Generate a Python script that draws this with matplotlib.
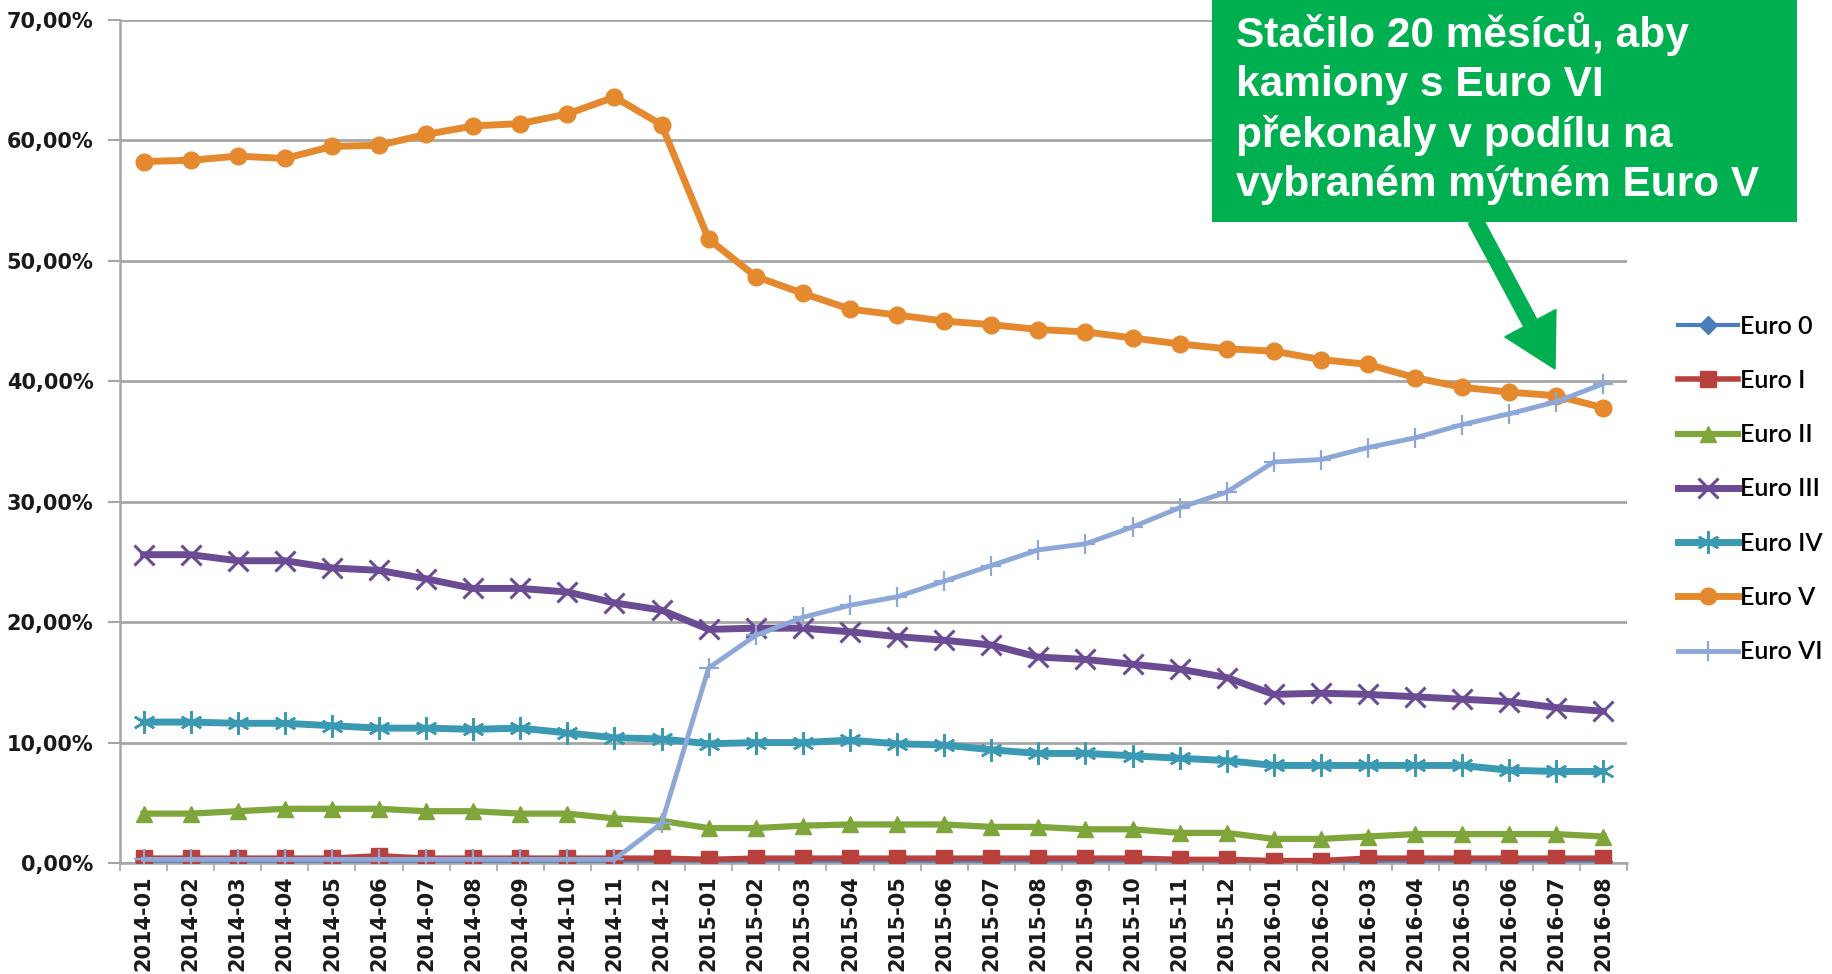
import matplotlib
matplotlib.use("Agg")
import matplotlib.pyplot as plt
import matplotlib.patches as mpatches
import matplotlib.transforms as mtransforms
from matplotlib.ticker import FuncFormatter, FixedLocator

months = ["2014-01", "2014-02", "2014-03", "2014-04", "2014-05", "2014-06", "2014-07", "2014-08",
          "2014-09", "2014-10", "2014-11", "2014-12", "2015-01", "2015-02", "2015-03", "2015-04",
          "2015-05", "2015-06", "2015-07", "2015-08", "2015-09", "2015-10", "2015-11", "2015-12",
          "2016-01", "2016-02", "2016-03", "2016-04", "2016-05", "2016-06", "2016-07", "2016-08"]

euro0 = [0.2, 0.2, 0.2, 0.2, 0.2, 0.2, 0.2, 0.2, 0.2, 0.2, 0.2, 0.2, 0.2, 0.2, 0.2, 0.2,
         0.2, 0.2, 0.2, 0.2, 0.2, 0.2, 0.2, 0.2, 0.1, 0.1, 0.2, 0.2, 0.2, 0.2, 0.2, 0.2]
euro1 = [0.4, 0.4, 0.4, 0.4, 0.4, 0.6, 0.4, 0.4, 0.4, 0.4, 0.4, 0.4, 0.3, 0.4, 0.4, 0.4,
         0.4, 0.4, 0.4, 0.4, 0.4, 0.4, 0.3, 0.3, 0.2, 0.2, 0.4, 0.4, 0.4, 0.4, 0.4, 0.4]
euro2 = [4.1, 4.1, 4.3, 4.5, 4.5, 4.5, 4.3, 4.3, 4.1, 4.1, 3.7, 3.5, 2.9, 2.9, 3.1, 3.2,
         3.2, 3.2, 3.0, 3.0, 2.8, 2.8, 2.5, 2.5, 2.0, 2.0, 2.2, 2.4, 2.4, 2.4, 2.4, 2.2]
euro3 = [25.6, 25.6, 25.1, 25.1, 24.5, 24.3, 23.6, 22.8, 22.8, 22.5, 21.6, 21.0, 19.4, 19.5, 19.5, 19.2,
         18.8, 18.5, 18.1, 17.1, 16.9, 16.5, 16.1, 15.4, 14.0, 14.1, 14.0, 13.8, 13.6, 13.4, 12.9, 12.6]
euro4 = [11.7, 11.7, 11.6, 11.6, 11.4, 11.2, 11.2, 11.1, 11.2, 10.8, 10.4, 10.3, 9.9, 10.0, 10.0, 10.2,
         9.9, 9.8, 9.4, 9.1, 9.1, 8.9, 8.7, 8.5, 8.1, 8.1, 8.1, 8.1, 8.1, 7.7, 7.6, 7.6]
euro5 = [58.25, 58.35, 58.7, 58.5, 59.5, 59.6, 60.5, 61.2, 61.4, 62.2, 63.6, 61.3, 51.8, 48.7, 47.3, 46.0,
         45.5, 45.0, 44.7, 44.3, 44.1, 43.6, 43.1, 42.7, 42.5, 41.8, 41.4, 40.3, 39.5, 39.1, 38.8, 37.8]
euro6 = [0.3, 0.3, 0.3, 0.3, 0.3, 0.3, 0.3, 0.3, 0.3, 0.3, 0.3, 3.3, 16.2, 18.9, 20.4, 21.4,
         22.1, 23.4, 24.7, 26.0, 26.5, 27.9, 29.5, 30.8, 33.3, 33.5, 34.5, 35.3, 36.4, 37.3, 38.3, 39.8]

series_names = ["Euro 0", "Euro I", "Euro II", "Euro III", "Euro IV", "Euro V", "Euro VI"]
yticks = [0, 10, 20, 30, 40, 50, 60, 70]
note = "Stačilo 20 měsíců, aby\nkamiony s Euro VI\npřekonaly v podílu na\nvybraném mýtném Euro V"

W, H = 1833, 974
fig = plt.figure(figsize=(W / 100, H / 100), dpi=100)
fig.patch.set_facecolor("white")
ax = fig.add_axes([120 / W, 1 - 863 / H, (1627 - 120) / W, (863 - 20) / H])

x = list(range(len(months)))
styles = [
    (euro0, "#4A7EBB", "D", 3.0, 9, 1.0),
    (euro1, "#B8403D", "s", 4.0, 11, 1.0),
    (euro2, "#7FA63B", "^", 4.5, 12, 1.0),
    (euro3, "#6B4C94", "x", 5.0, 14, 2.2),
    (euro4, "#3A9AB3", (6, 2, 0), 5.0, 16, 1.8),
    (euro5, "#E5892F", "o", 5.0, 12, 1.0),
    (euro6, "#8DA8D8", "+", 3.5, 14, 1.6),
]
for (vals, col, mk, lw, ms, mew), name in zip(styles, series_names):
    ax.plot(x, vals, color=col, lw=lw, marker=mk, ms=ms, mew=mew,
            mec=col, mfc=col, label=name, solid_joinstyle="round", zorder=3)

ax.set_xlim(-0.5, len(months) - 0.5)
ax.set_ylim(0, 70)
ax.yaxis.set_major_locator(FixedLocator(yticks))
ax.yaxis.set_major_formatter(FuncFormatter(lambda v, p: f"{v:.2f}".replace(".", ",") + "%"))
ax.grid(axis="y", color="#A6A6A6", lw=2.0, zorder=0)
ax.set_axisbelow(True)
ax.set_xticks(x)
ax.set_xticklabels(months, rotation=90)
ax.set_xticks([i - 0.5 for i in range(len(months) + 1)], minor=True)
ax.tick_params(axis="x", which="major", length=0, pad=9, labelsize=15, labelcolor="#1a1a1a")
ax.tick_params(axis="x", which="minor", length=6, width=1.2, color="#A6A6A6")
ax.tick_params(axis="y", length=9, width=1.5, color="#A6A6A6", pad=10, labelsize=15, labelcolor="#1a1a1a")
for lab in ax.get_xticklabels() + ax.get_yticklabels():
    lab.set_fontweight("bold")
for s in ["top", "right"]:
    ax.spines[s].set_visible(False)
ax.spines["left"].set_color("#A6A6A6")
ax.spines["left"].set_linewidth(1.8)
ax.spines["bottom"].set_color("#A6A6A6")
ax.spines["bottom"].set_linewidth(1.8)

leg = fig.legend(loc="center left", bbox_to_anchor=(1668 / W, 1 - 489 / H), frameon=False,
                 prop={"family": "Lato", "size": 18, "weight": "semibold"}, handlelength=2.4,
                 handletextpad=0.1, labelspacing=1.25, borderaxespad=0)

# annotation box
box = mpatches.Rectangle((1212 / W, 1 - 222 / H), (1797 - 1212) / W, 222 / H,
                         transform=fig.transFigure, facecolor="#00B050", edgecolor="none", zorder=5)
fig.add_artist(box)
fig.text(1236 / W, 1 - 12 / H, note, ha="left", va="top", color="white",
         family="Liberation Sans", fontweight="bold", fontsize=30.5, linespacing=1.3, zorder=6)

arrow = mpatches.FancyArrow(1475, H - 220, 1555 - 1475, -(369 - 220), width=15,
                            head_width=58, head_length=52, length_includes_head=True,
                            transform=mtransforms.IdentityTransform(), color="#00B050", zorder=6)
fig.add_artist(arrow)

fig.savefig("out.png", dpi=100)
